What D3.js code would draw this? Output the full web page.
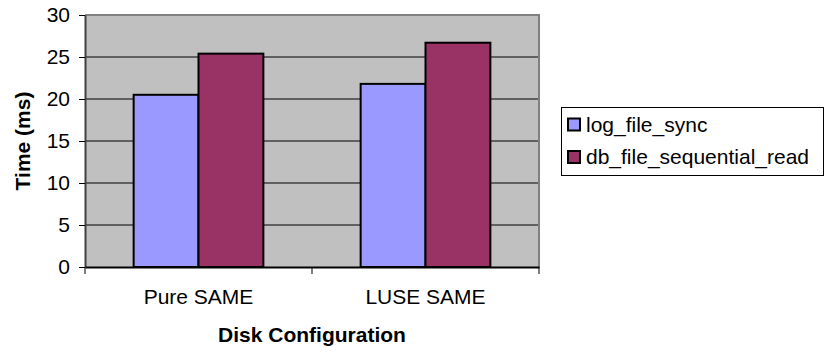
<!DOCTYPE html>
<html><head><meta charset="utf-8">
<script src="https://cdn.jsdelivr.net/npm/d3@7"></script>
<style>body{margin:0;background:#fff}svg{display:block;font-family:Arial,"Liberation Sans",sans-serif}</style>
</head><body><svg id="c" width="825" height="354"></svg>
<script>
const categories = ["Pure SAME", "LUSE SAME"];
const seriesNames = ["log_file_sync", "db_file_sequential_read"];
const logFileSync = [20.5, 21.8];
const dbFileSequentialRead = [25.4, 26.7];
const yTicks = [0, 5, 10, 15, 20, 25, 30];
const colors = ["#9999FF", "#993366"];

const svg = d3.select("#c");
const L = 85, R = 539, T = 15, B = 267;
const FS = 21;
const x = d3.scaleBand().domain(categories).range([L, R]);
const y = d3.scaleLinear().domain([0, 30]).range([B, T]);

svg.append("rect").attr("x", L).attr("y", T).attr("width", R - L).attr("height", B - T).attr("fill", "#C0C0C0");
svg.append("g").selectAll("line").data(yTicks.filter(d => d > 0 && d < 30)).join("line")
  .attr("x1", L).attr("x2", R).attr("y1", d => y(d)).attr("y2", d => y(d))
  .attr("stroke", "#000").attr("stroke-width", 1);
svg.append("path").attr("d", `M${L},${T}H${R}V${B}`).attr("fill", "none").attr("stroke", "#808080").attr("stroke-width", 2);

const data = [logFileSync, dbFileSequentialRead];
const bw = x.bandwidth() / 3.5;
categories.forEach((c, i) => {
  data.forEach((s, j) => {
    const x0 = x(c) + x.bandwidth() * 0.75 / 3.5 + j * bw;
    svg.append("rect").attr("x", x0).attr("y", y(s[i])).attr("width", bw).attr("height", y(0) - y(s[i]))
      .attr("fill", colors[j]).attr("stroke", "#000").attr("stroke-width", 2);
  });
});

const ya = svg.append("g").attr("transform", `translate(${L},0)`)
  .call(d3.axisLeft(y).tickValues(yTicks).tickSize(6).tickPadding(9).tickSizeOuter(0));
ya.select(".domain").attr("stroke", "#404040").attr("stroke-width", 2);
ya.selectAll("text").attr("font-size", FS).attr("fill", "#000").attr("font-family", "Arial, 'Liberation Sans', sans-serif");
ya.selectAll("line").attr("stroke", "#000");

const xa = svg.append("g").attr("transform", `translate(0,${B})`)
  .call(d3.axisBottom(x).tickSize(0).tickPadding(22).tickSizeOuter(0));
xa.select(".domain").attr("stroke", "#000").attr("stroke-width", 2);
xa.selectAll("text").attr("font-size", FS).attr("fill", "#000").attr("font-family", "Arial, 'Liberation Sans', sans-serif");
const bounds = categories.map(c => x(c)).concat([R]);
svg.append("g").selectAll("line").data(bounds).join("line")
  .attr("x1", d => d).attr("x2", d => d).attr("y1", B).attr("y2", B + 7).attr("stroke", "#000");

svg.append("text").attr("x", (L + R) / 2).attr("y", 342).attr("text-anchor", "middle")
  .attr("font-size", FS).attr("font-weight", "bold").text("Disk Configuration");
svg.append("text").attr("transform", `translate(30,${(T + B) / 2}) rotate(-90)`).attr("text-anchor", "middle")
  .attr("font-size", FS).attr("font-weight", "bold").text("Time (ms)");

const lg = svg.append("g");
lg.append("rect").attr("x", 561.5).attr("y", 107.5).attr("width", 262).attr("height", 68)
  .attr("fill", "#fff").attr("stroke", "#000").attr("stroke-width", 1);
seriesNames.forEach((n, j) => {
  const base = 131.5 + j * 32.5;
  lg.append("rect").attr("x", 568).attr("y", base - 13).attr("width", 12).attr("height", 12)
    .attr("fill", colors[j]).attr("stroke", "#000").attr("stroke-width", 2);
  lg.append("text").attr("x", 586).attr("y", base).attr("font-size", FS).text(n);
});
</script></body></html>
